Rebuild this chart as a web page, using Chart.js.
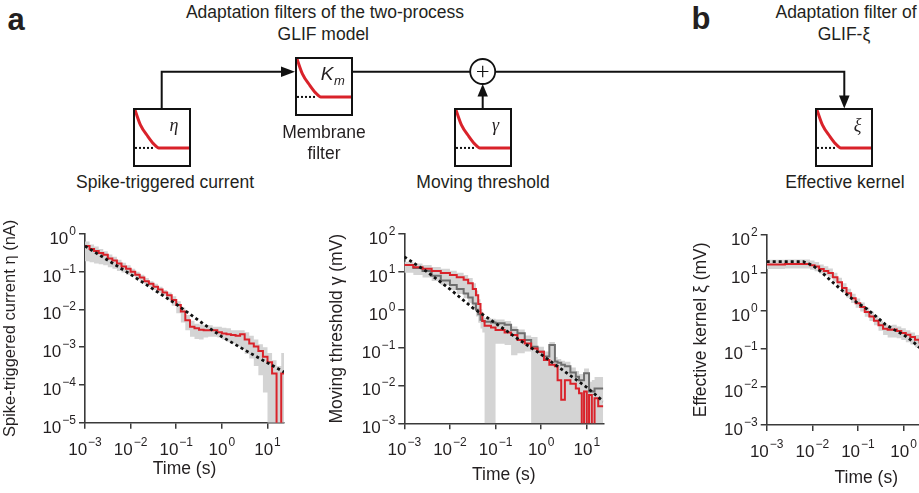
<!DOCTYPE html>
<html>
<head>
<meta charset="utf-8">
<script src="https://cdn.jsdelivr.net/npm/chart.js@4.4.1/dist/chart.umd.min.js"></script>
<style>
  html, body { margin: 0; padding: 0; background: #fff; overflow: hidden; }
  body { width: 919px; height: 493px; position: relative; font-family: "Liberation Sans", Arial, sans-serif; color: #231f20; }
  .txt { position: absolute; transform: translate(-50%, -50%); white-space: nowrap; font-size: 17.5px; line-height: 1; }
  .panel { position: absolute; transform: translate(-50%, -50%); font-weight: bold; font-size: 31px; line-height: 1; }
  .box { position: absolute; width: 54px; height: 55px; border: 2px solid #111; background: #fff; }
  .box canvas { position: absolute; left: 0; top: 0; }
  .sym { position: absolute; transform: translate(-50%, -50%); font-family: "Liberation Serif", serif; font-style: italic; font-size: 18px; line-height: 1; }
  canvas.main { position: absolute; }
</style>
</head>
<body>

<!-- diagram -->
<svg style="position:absolute;left:0;top:0" width="919" height="200">
  <g stroke="#111" stroke-width="2" fill="none">
    <path d="M161.7 108.5 V71.7 H285"/>
    <path d="M353 71.7 H470.2"/>
    <path d="M495.2 71.7 H844.3 V98"/>
    <path d="M482.7 108 V95"/>
    <circle cx="482.7" cy="71.5" r="12.5" stroke-width="1.8" fill="#fff"/>
    <path d="M477 71.5 H488.4 M482.7 65.8 V77.2" stroke-width="1.2"/>
  </g>
  <g fill="#111">
    <polygon points="295,71.7 281,66.5 281,76.9"/>
    <polygon points="844.3,108.5 839,95.5 849.6,95.5"/>
    <polygon points="482.7,84 477.5,96.5 487.9,96.5"/>
  </g>
</svg>

<div class="panel" style="left:16px;top:19px">a</div>
<div class="panel" style="left:701px;top:17.5px">b</div>

<div class="txt" style="left:325px;top:13.3px">Adaptation filters of the two-process</div>
<div class="txt" style="left:323.3px;top:35px">GLIF model</div>
<div class="txt" style="left:846px;top:13.3px">Adaptation filter of</div>
<div class="txt" style="left:844px;top:35px">GLIF-ξ</div>

<div class="box" style="left:132.7px;top:108.3px"><canvas id="m1" width="54" height="55"></canvas></div>
<div class="box" style="left:295px;top:56.7px"><canvas id="m2" width="54" height="55"></canvas></div>
<div class="box" style="left:453.7px;top:108.3px"><canvas id="m3" width="54" height="55"></canvas></div>
<div class="box" style="left:815.3px;top:108.3px"><canvas id="m4" width="54" height="55"></canvas></div>

<div class="sym" style="left:174px;top:125px">η</div>
<div class="sym" style="left:327px;top:72.5px;font-family:'Liberation Sans',Arial,sans-serif;font-size:19px">K</div>
<div class="sym" style="left:339.5px;top:80px;font-family:'Liberation Sans',Arial,sans-serif;font-size:13px">m</div>
<div class="sym" style="left:495.5px;top:125px">γ</div>
<div class="sym" style="left:857.5px;top:125px">ξ</div>

<div class="txt" style="left:165px;top:183.3px">Spike-triggered current</div>
<div class="txt" style="left:324px;top:133.3px">Membrane</div>
<div class="txt" style="left:324px;top:154px">filter</div>
<div class="txt" style="left:483px;top:183.3px">Moving threshold</div>
<div class="txt" style="left:845px;top:183.3px">Effective kernel</div>

<canvas id="c1" class="main"></canvas>
<canvas id="c2" class="main"></canvas>
<canvas id="c3" class="main"></canvas>

<script>
const RED = '#d9222a';
const GRAY = '#6e6e6e';
const BAND = '#d4d4d4';
const INK = '#231f20';
const AXIS = '#3a3a3a';
const FONT = '"Liberation Sans", Arial, Helvetica, sans-serif';

// tick values
const X_TICKS = [1e-3, 1e-2, 1e-1, 1, 10];
const ETA_TICKS = [1e-5, 1e-4, 1e-3, 1e-2, 1e-1, 1];
const MV_TICKS = [1e-3, 1e-2, 1e-1, 1, 10, 100];

// small filter sketches in the boxes
const MINI_X = [0, 0.1, 0.24, 0.35, 0.44, 1.0];
const MINI_Y = [1, 0.61, 0.30, 0.10, 0, 0];
const MINI_BASE_X = [0, 0.34];
const MINI_BASE_Y = [0, 0];

// panel 1: spike-triggered current eta (nA)
const T1 = [0.001, 0.00126, 0.00158, 0.002, 0.00251, 0.00316, 0.00398, 0.00501, 0.00631, 0.00794,
  0.01, 0.0126, 0.0158, 0.02, 0.0251, 0.0316, 0.0398, 0.0501, 0.0631, 0.0794,
  0.1, 0.126, 0.158, 0.2, 0.251, 0.316, 0.398, 0.501, 0.631, 0.794,
  1, 1.26, 1.58, 2, 2.51, 3.16, 3.98, 5.01, 6.31, 7.94,
  10, 12.6, 15.8, 20, 23];
const ETA_RED = [0.48, 0.40, 0.355, 0.316, 0.282, 0.224, 0.20, 0.166, 0.138, 0.12,
  0.10, 0.083, 0.0708, 0.0562, 0.0479, 0.0398, 0.0339, 0.0282, 0.024, 0.0178,
  0.0132, 0.0089, 0.0052, 0.0035, 0.0032, 0.0029, 0.0028, 0.0028, 0.0028, 0.0025,
  0.0023, 0.0022, 0.0021, 0.0020, 0.0022, 0.0016, 0.00126, 0.00105, 0.00079, 0.00056,
  0.0004, 0.0002, 1e-7, 0.0002, 0.0002];
const ETA_UP = [0.63, 0.525, 0.468, 0.398, 0.347, 0.288, 0.251, 0.209, 0.174, 0.148,
  0.12, 0.10, 0.083, 0.068, 0.056, 0.048, 0.04, 0.033, 0.028, 0.0224,
  0.0166, 0.0112, 0.0071, 0.005, 0.0042, 0.004, 0.0038, 0.0038, 0.0035, 0.0035,
  0.0033, 0.0032, 0.0028, 0.0028, 0.0028, 0.0025, 0.002, 0.0016, 0.0012, 0.001,
  0.0007, 0.00045, 0.00032, 0.0007, 0.0007];
const ETA_LO = [0.19, 0.178, 0.166, 0.158, 0.148, 0.132, 0.12, 0.105, 0.095, 0.083,
  0.076, 0.066, 0.0575, 0.0468, 0.04, 0.033, 0.0275, 0.023, 0.0178, 0.0126,
  0.0079, 0.0045, 0.0028, 0.0019, 0.00166, 0.0016, 0.0018, 0.0019, 0.0019, 0.0018,
  0.0016, 0.0014, 0.00126, 0.00105, 0.00089, 0.00066, 0.0005, 0.00032, 0.00018, 0.000063,
  1e-7, 1e-7, 1e-7, 1e-7, 1e-7];
const ETA_FIT_T = [0.001, 0.01, 0.1, 0.316, 1, 3.98, 23];
const ETA_FIT = [0.48, 0.085, 0.0138, 0.005, 0.0019, 0.00072, 0.00022];

// panel 2: moving threshold gamma (mV)
const T2 = [0.001, 0.00158, 0.00251, 0.00398, 0.00631, 0.01, 0.0141, 0.02, 0.0251, 0.0316,
  0.0372, 0.0417, 0.0468, 0.0513, 0.0575, 0.0794, 0.1, 0.158, 0.219, 0.302,
  0.437, 0.603, 0.832, 1.15, 1.51, 2.0, 2.29, 2.75, 3.31, 4.37,
  5.75, 6.76, 7.76, 8.71, 10, 11.2, 12.9, 14.8, 17.8, 23];
const GAM_RED = [15.1, 13.2, 12.0, 10.5, 9.3, 8.3, 7.2, 6.2, 5.0, 3.5,
  2.4, 1.41, 0.79, 0.5, 0.38, 0.34, 0.29, 0.25, 0.214, 0.158,
  0.129, 0.095, 0.078, 0.047, 0.035, 0.032, 0.0138, 0.0042, 0.0138, 0.011,
  0.0083, 0.0062, 1e-7, 0.0069, 1e-7, 0.0056, 1e-7, 0.0046, 0.0028, 0.0028];
const GAM_GRAY = [15.1, 12.6, 10.5, 7.9, 5.9, 4.5, 3.5, 2.7, 2.1, 1.45,
  1.0, 0.76, 0.54, 0.5, 0.48, 0.46, 0.44, 0.4, 0.29, 0.24,
  0.158, 0.105, 0.078, 0.058, 0.117, 0.043, 0.04, 0.035, 0.032, 0.022,
  0.017, 0.0138, 0.0138, 0.021, 0.021, 0.0069, 0.0069, 0.0083, 0.0083, 0.0083];
const GAM_UP = [18.6, 16.6, 15.1, 13.5, 12.0, 10.7, 9.5, 8.3, 6.9, 5.0,
  3.2, 1.9, 1.05, 0.66, 0.6, 0.575, 0.55, 0.5, 0.363, 0.302,
  0.209, 0.19, 0.105, 0.079, 0.141, 0.056, 0.05, 0.045, 0.042, 0.03,
  0.024, 0.02, 0.02, 0.028, 0.028, 0.0126, 0.014, 0.0166, 0.0166, 0.0166];
const GAM_LO = [9.5, 8.3, 7.1, 5.75, 4.5, 3.3, 2.6, 2.0, 1.5, 1.0,
  0.66, 0.45, 0.32, 0.25, 1e-7, 1e-7, 0.126, 0.117, 0.063, 0.071,
  0.079, 1e-7, 1e-7, 1e-7, 1e-7, 1e-7, 1e-7, 1e-7, 1e-7, 1e-7,
  1e-7, 1e-7, 1e-7, 1e-7, 1e-7, 1e-7, 1e-7, 1e-7, 1e-7, 1e-7];
const GAM_FIT_T = [0.001, 0.00316, 0.01, 0.0316, 0.1, 0.316, 1, 3.16, 10, 23];
const GAM_FIT = [25, 10, 3.5, 1.12, 0.44, 0.166, 0.066, 0.024, 0.0089, 0.0038];

// panel 3: effective kernel xi (mV)
const T3 = [0.001, 0.00251, 0.00631, 0.00891, 0.0112, 0.0141, 0.0178, 0.0224, 0.0282, 0.0355,
  0.0447, 0.0562, 0.0708, 0.0891, 0.112, 0.141, 0.178, 0.224, 0.282, 0.355,
  0.447, 0.562, 0.708, 0.891, 1.12, 1.41, 1.78, 2.24, 2.82];
const XI_RED = [16.6, 17.0, 17.0, 15.8, 14.5, 12.6, 11.2, 9.8, 7.6, 5.6,
  4.0, 2.9, 2.14, 1.58, 1.26, 0.93, 0.71, 0.55, 0.42, 0.34,
  0.316, 0.324, 0.295, 0.263, 0.234, 0.204, 0.174, 0.148, 0.126];
const XI_UP = [21.9, 22.4, 22.4, 20.9, 19.1, 16.6, 14.8, 12.9, 10.0, 7.4,
  5.3, 3.8, 2.8, 2.1, 1.66, 1.23, 0.94, 0.73, 0.55, 0.45,
  0.42, 0.43, 0.39, 0.35, 0.31, 0.27, 0.23, 0.2, 0.17];
const XI_LO = [12.6, 12.9, 12.9, 12.0, 11.0, 9.6, 8.5, 7.4, 5.8, 4.3,
  3.0, 2.2, 1.6, 1.2, 0.96, 0.7, 0.54, 0.42, 0.3, 0.23,
  0.2, 0.2, 0.19, 0.17, 0.15, 0.13, 0.11, 0.095, 0.08];
const XI_FIT_T = [0.001, 0.00631, 0.01, 0.0158, 0.0251, 0.0398, 0.0631, 0.1, 0.158, 0.251,
  0.398, 0.631, 1, 1.58, 2.09, 2.82];
const XI_FIT = [19.5, 19.5, 15.8, 10.5, 6.3, 3.9, 2.4, 1.58, 1.12, 0.71,
  0.44, 0.316, 0.234, 0.158, 0.115, 0.089];

function zip(t, v) {
  return t.map((x, i) => ({ x: x, y: v[i] }));
}

// "10" with a raised exponent, placed on the scale's own tick positions
const expTicks = {
  id: 'expTicks',
  afterDraw(chart) {
    const ctx = chart.ctx;
    const xs = chart.scales.x, ys = chart.scales.y;
    const area = chart.chartArea;
    ctx.save();
    ctx.fillStyle = INK;
    ctx.textBaseline = 'alphabetic';
    ctx.textAlign = 'left';
    const label = (v, px, py, center) => {
      const e = String(Math.round(Math.log10(v))).replace('-', '\u2212');
      ctx.font = '17px ' + FONT;
      const w1 = ctx.measureText('10').width;
      ctx.font = '12px ' + FONT;
      const w2 = ctx.measureText(e).width;
      const total = w1 + 1 + w2;
      const left = center ? px - total / 2 : px - total;
      ctx.font = '17px ' + FONT;
      ctx.fillText('10', left, py);
      ctx.font = '12px ' + FONT;
      ctx.fillText(e, left + w1 + 1, py - 9);
    };
    xs.ticks.forEach(t => label(t.value, xs.getPixelForValue(t.value), area.bottom + 32, true));
    ys.ticks.forEach(t => label(t.value, area.left - 9, ys.getPixelForValue(t.value) + 10, false));
    ctx.restore();
  }
};

function traces(t, red, lo, up, fitT, fit, gray) {
  const ds = [
    { data: zip(fitT, fit), borderColor: '#111', borderWidth: 2.8, borderDash: [3, 3], order: 0 },
    { data: zip(t, red), borderColor: RED, borderWidth: 2, stepped: 'before', order: 1 },
    { data: zip(t, lo), borderColor: 'rgba(0,0,0,0)', borderWidth: 0, stepped: 'before', fill: false, order: 3 },
    { data: zip(t, up), borderColor: 'rgba(0,0,0,0)', borderWidth: 0, stepped: 'before', fill: '-1', backgroundColor: BAND, order: 3 }
  ];
  if (gray) {
    ds.push({ data: zip(t, gray), borderColor: GRAY, borderWidth: 2, stepped: 'before', order: 2 });
  }
  return ds;
}

function logPanel(id, b, yTicks, yMin, yMax, yTitle, yTitleSize, datasets) {
  const cv = document.getElementById(id);
  cv.style.left = b.x + 'px';
  cv.style.top = b.y + 'px';
  cv.width = b.w;
  cv.height = b.h;
  const xH = 60;
  const xTitleSize = 17.5;
  const axisStyle = {
    grid: { drawOnChartArea: false, drawTicks: true, tickLength: 6, color: AXIS, lineWidth: 1.5 },
    border: { display: true, color: AXIS, width: 1.6 },
    ticks: { display: false }
  };
  return new Chart(cv, {
    type: 'line',
    data: { datasets: datasets },
    plugins: [expTicks],
    options: {
      responsive: false,
      animation: false,
      devicePixelRatio: 1,
      layout: {
        padding: {
          left: 0,
          top: b.top - b.y,
          right: b.x + b.w - b.right,
          bottom: b.y + b.h - b.bottom - xH
        }
      },
      plugins: { legend: { display: false }, tooltip: { enabled: false } },
      elements: { point: { radius: 0, hoverRadius: 0 }, line: { tension: 0 } },
      scales: {
        x: Object.assign({
          type: 'logarithmic', min: 1e-3, max: 23,
          afterBuildTicks: s => { s.ticks = X_TICKS.map(v => ({ value: v })); },
          afterFit: s => { s.height = xH; },
          title: {
            display: true, text: 'Time (s)', color: INK,
            font: { size: xTitleSize, family: FONT },
            padding: { top: 0, bottom: b.bottom + xH - xTitleSize * 0.6 - b.xTitleY }
          }
        }, axisStyle),
        y: Object.assign({
          type: 'logarithmic', min: yMin, max: yMax,
          afterBuildTicks: s => { s.ticks = yTicks.map(v => ({ value: v })); },
          afterFit: s => { s.width = b.left - b.x; },
          title: {
            display: true, text: yTitle, color: INK,
            font: { size: yTitleSize, family: FONT },
            padding: { top: b.yTitleX - b.x - yTitleSize * 0.6, bottom: 0 }
          }
        }, axisStyle)
      }
    }
  });
}

function mini(id) {
  new Chart(document.getElementById(id), {
    type: 'line',
    data: {
      datasets: [
        { data: zip(MINI_BASE_X, MINI_BASE_Y), borderColor: '#111', borderWidth: 2, borderDash: [2, 2] },
        { data: zip(MINI_X, MINI_Y), borderColor: RED, borderWidth: 3, cubicInterpolationMode: 'monotone' }
      ]
    },
    options: {
      responsive: false, animation: false, devicePixelRatio: 1,
      layout: { padding: 0 },
      plugins: { legend: { display: false }, tooltip: { enabled: false } },
      elements: { point: { radius: 0 } },
      scales: {
        x: { type: 'linear', min: 0, max: 1, display: false },
        y: { type: 'linear', min: -0.45, max: 1, display: false }
      }
    }
  });
}

['m1', 'm2', 'm3', 'm4'].forEach(mini);

logPanel('c1',
  { x: 0, y: 215, w: 300, h: 278, left: 85, top: 234, right: 284, bottom: 422.7, xTitleY: 469, yTitleX: 10.5 },
  ETA_TICKS, 1e-5, 1, 'Spike-triggered current η (nA)', 16.5,
  traces(T1, ETA_RED, ETA_LO, ETA_UP, ETA_FIT_T, ETA_FIT));

logPanel('c2',
  { x: 327, y: 215, w: 290, h: 278, left: 404.3, top: 234, right: 603.3, bottom: 423.3, xTitleY: 475, yTitleX: 337.5 },
  MV_TICKS, 1e-3, 100, 'Moving threshold γ (mV)', 17.5,
  traces(T2, GAM_RED, GAM_LO, GAM_UP, GAM_FIT_T, GAM_FIT, GAM_GRAY));

logPanel('c3',
  { x: 688, y: 215, w: 290, h: 278, left: 766.7, top: 234.7, right: 965.7, bottom: 425, xTitleY: 478, yTitleX: 700.7 },
  MV_TICKS, 1e-3, 100, 'Effective kernel ξ (mV)', 17.5,
  traces(T3, XI_RED, XI_LO, XI_UP, XI_FIT_T, XI_FIT));
</script>
</body>
</html>
